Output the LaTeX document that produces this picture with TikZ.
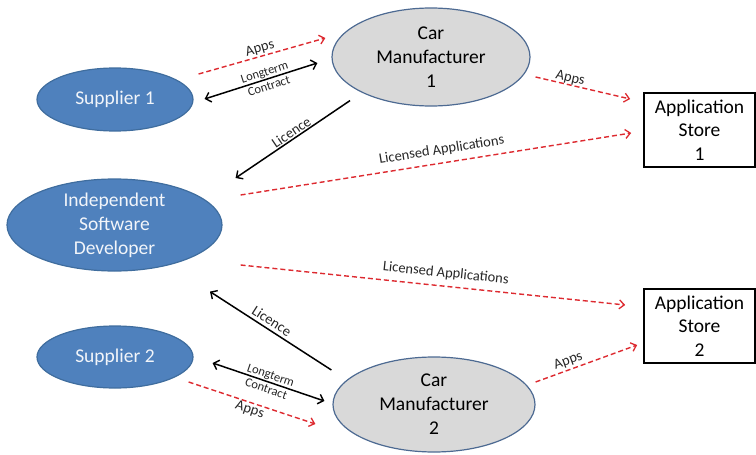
\documentclass[tikz,border=0pt]{standalone}
\usepackage{fontspec}
\setmainfont{Carlito}
\usetikzlibrary{shapes.geometric,arrows.meta,calc}
\definecolor{nodeblue}{HTML}{4F81BD}
\definecolor{edgeblue}{HTML}{3F6D9E}
\definecolor{cargrey}{HTML}{D9D9D9}
\definecolor{cargreyedge}{HTML}{4D6A92}
\definecolor{appred}{HTML}{DD2A30}
\definecolor{paletext}{HTML}{F2F5FA}

\tikzset{
  blacktip/.tip={Straight Barb[length=5pt,width=10pt,line width=1.4pt]},
  redtip/.tip={Straight Barb[length=5pt,width=9pt,line width=1.3pt,color=appred]}
}

\begin{document}
\begin{tikzpicture}[x=1pt,y=-1pt,
  party/.style={ellipse, draw=edgeblue, line width=1.2pt, fill=nodeblue,
    text=paletext, inner sep=0pt, align=center,
    font=\fontsize{19.5}{24}\selectfont},
  maker/.style={party, fill=cargrey, draw=cargreyedge, text=black},
  store/.style={rectangle, draw=black, line width=1.6pt, fill=white,
    inner sep=0pt, align=center, minimum width=111, minimum height=74,
    font=\fontsize{19.5}{23.5}\selectfont},
  apps/.style={draw=appred, line width=1.4pt, dash pattern=on 5pt off 3pt,
    -{redtip}},
  licence/.style={draw=black, line width=1.5pt, -{blacktip}},
  contract/.style={draw=black, line width=1.5pt, {blacktip}-{blacktip}},
  lab/.style={font=\fontsize{14.5}{17}\selectfont, text=black!85, inner sep=1pt},
  smalllab/.style={font=\fontsize{12.5}{14.5}\selectfont, text=black!85,
    inner sep=0pt, align=center}]

\useasboundingbox (0,0) rectangle (756,455);

% parties
\node[party, minimum width=156, minimum height=63] (s1) at (115,99.5) {Supplier 1};
\node[party, minimum width=215, minimum height=92] (isd) at (114.5,225)
  {Independent\\Software\\Developer};
\node[party, minimum width=156, minimum height=62] (s2) at (115,357) {Supplier 2};
\node[maker, minimum width=198, minimum height=98] (cm1) at (431,57)
  {Car\\Manufacturer\\1};
\node[maker, minimum width=202, minimum height=95] (cm2) at (434,404.5)
  {Car\\Manufacturer\\2};
\node[store] (as1) at (699.5,130) {Application\\Store\\1};
\node[store] (as2) at (699.5,326) {Application\\Store\\2};

% end points of the connectors, placed from the nodes
\coordinate (a1s) at ($(s1.east)+(5,-25.5)$);
\coordinate (a1e) at ($(cm1.west)+(-6,-19)$);
\coordinate (c1s) at ($(s1.east)+(11,-0.5)$);
\coordinate (c1e) at ($(cm1.west)+(-14,6)$);
\coordinate (l1s) at ($(cm1.south)+(-81,-6)$);
\coordinate (l1e) at ($(isd.east)+(13,-47)$);
\coordinate (b1s) at ($(cm1.east)+(5,20)$);
\coordinate (b1e) at ($(as1.west)+(-13,-31)$);
\coordinate (la1s) at ($(isd.east)+(18,-30)$);
\coordinate (la1e) at ($(as1.west)+(-12,3)$);
\coordinate (la2s) at ($(isd.east)+(18,40)$);
\coordinate (la2e) at ($(as2.west)+(-18,-21)$);
\coordinate (l2s) at ($(cm2.west)+(-1,-34.5)$);
\coordinate (l2e) at ($(isd.south)+(95.5,20)$);
\coordinate (c2s) at ($(s2.east)+(19,6)$);
\coordinate (c2e) at ($(cm2.west)+(-8,-3.5)$);
\coordinate (a2s) at ($(s2.east)+(-5,25)$);
\coordinate (a2e) at ($(cm2.west)+(-17,19.5)$);
\coordinate (b2s) at ($(cm2.east)+(0,-22.5)$);
\coordinate (b2e) at ($(as2.west)+(-6,19)$);

% upper chain
\draw[apps] (a1s) -- node[lab, sloped, above] {Apps} (a1e);
\draw[contract] (c1s) -- node[smalllab, sloped, pos=0.55] {Longterm\\Contract} (c1e);
\draw[licence] (l1s) -- node[lab, sloped, above, pos=0.48] {Licence} (l1e);
\draw[apps] (b1s) -- node[lab, sloped, above, inner sep=0pt, pos=0.35] {Apps} (b1e);
\draw[apps] (la1s) -- node[lab, sloped, above=5pt, pos=0.52] {Licensed Applications} (la1e);

% lower chain
\draw[apps] (la2s) -- node[lab, sloped, above=5pt, pos=0.53] {Licensed Applications} (la2e);
\draw[licence] (l2s) -- node[lab, sloped, above=2pt, pos=0.53] {Licence} (l2e);
\draw[contract] (c2s) -- node[smalllab, sloped, pos=0.5] {Longterm\\Contract} (c2e);
\draw[apps] (a2s) -- node[lab, sloped, below] {Apps} (a2e);
\draw[apps] (b2s) -- node[lab, sloped, above=1pt, pos=0.35] {Apps} (b2e);

\end{tikzpicture}
\end{document}
